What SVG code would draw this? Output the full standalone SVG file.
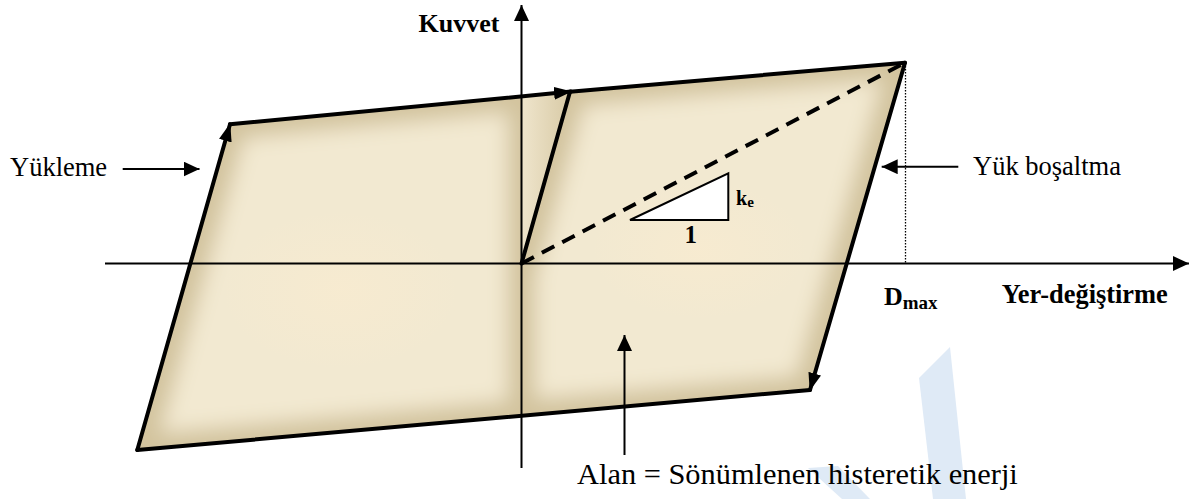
<svg xmlns="http://www.w3.org/2000/svg" width="1192" height="499" viewBox="0 0 1192 499">
  <style>
    .b { font-weight: bold; }
    .edge { stroke: #000; stroke-width: 4; fill: none; stroke-linecap: round; }
    .thin { stroke: #000; stroke-width: 2; fill: none; }
  </style>
  <defs>
    <filter id="bev" x="-5%" y="-5%" width="110%" height="110%">
      <feMorphology in="SourceAlpha" operator="erode" radius="14" result="e"/>
      <feGaussianBlur in="e" stdDeviation="10" result="b"/>
      <feFlood flood-color="#F2E9D1" result="c"/>
      <feComposite in="c" in2="b" operator="in" result="l"/>
      <feMerge result="m"><feMergeNode in="SourceGraphic"/><feMergeNode in="l"/></feMerge>
      <feComposite in="m" in2="SourceAlpha" operator="in"/>
    </filter>
    <linearGradient id="sliver" x1="0" y1="0" x2="1" y2="0">
      <stop offset="0" stop-color="#EFE5CC"/>
      <stop offset="1" stop-color="#D8CAA6"/>
    </linearGradient>
    <radialGradient id="warm" cx="0.5" cy="0.5" r="0.5">
      <stop offset="0" stop-color="#F8EBD0" stop-opacity="0.8"/>
      <stop offset="1" stop-color="#F8EBD0" stop-opacity="0"/>
    </radialGradient>
    <marker id="ahB" markerUnits="userSpaceOnUse" markerWidth="20" markerHeight="14" refX="17" refY="6.5" orient="auto">
      <path d="M0,0 L18,6.5 L0,13 z" fill="#000"/>
    </marker>
    <marker id="ahS" markerUnits="userSpaceOnUse" markerWidth="18" markerHeight="16" refX="16" refY="7.5" orient="auto">
      <path d="M0,0 L16,7.5 L0,15 z" fill="#000"/>
    </marker>
  </defs>

  <g id="watermark" fill="#DFEAF6">
    <polygon points="950,347 919,378 933,499 966,499"/>
    <polygon points="808,468 838,466 870,499 842,499"/>
  </g>

  <g id="region-left">
    <polygon points="137.3,450 230,124.3 521.5,96.3 521.5,415.1" fill="#D3C49F" filter="url(#bev)"/>
    <ellipse cx="340" cy="290" rx="120" ry="80" fill="url(#warm)"/>
  </g>
  <g id="region-sliver">
    <polygon points="521.5,96.3 570,91.7 521.5,263.5" fill="url(#sliver)"/>
  </g>
  <g id="region-right">
    <polygon points="570,91.7 905,62.7 810,390 521.5,415.1 521.5,263.5" fill="#D3C49F" filter="url(#bev)"/>
    <ellipse cx="700" cy="250" rx="110" ry="70" fill="url(#warm)"/>
  </g>

  <g id="axes">
    <line class="thin" x1="105" y1="263.5" x2="1189" y2="263.5" marker-end="url(#ahS)"/>
    <line class="thin" x1="521.5" y1="468" x2="521.5" y2="5" marker-end="url(#ahS)"/>
    <line x1="905.5" y1="63" x2="905.5" y2="263" stroke="#000" stroke-width="1.3" stroke-dasharray="1.5,1.5"/>
  </g>

  <g id="connectors">
    <line class="edge" x1="137.3" y1="450" x2="230" y2="124.3" marker-end="url(#ahB)"/>
    <line class="edge" x1="230" y1="124.3" x2="571" y2="91.6" marker-end="url(#ahB)"/>
    <line class="edge" x1="570" y1="91.7" x2="905" y2="62.7"/>
    <line class="edge" x1="905" y1="62.7" x2="810" y2="390" marker-end="url(#ahB)"/>
    <line class="edge" x1="810" y1="390" x2="137.3" y2="450"/>
    <line class="edge" x1="521.5" y1="263.5" x2="570" y2="91.7"/>
    <line x1="521.5" y1="263.5" x2="905" y2="62.7" stroke="#000" stroke-width="4" stroke-dasharray="14,9"/>
    <line class="thin" x1="122.7" y1="169" x2="199.5" y2="169" marker-end="url(#ahS)"/>
    <line class="thin" x1="958.3" y1="166.7" x2="881.7" y2="166.7" marker-end="url(#ahS)"/>
    <line class="thin" x1="624.5" y1="455" x2="624.5" y2="335" marker-end="url(#ahS)"/>
  </g>

  <g id="stiffness-triangle" font-family="Liberation Serif, serif" fill="#000">
    <polygon points="630,220 728.3,173.3 728.3,220" fill="#fff" stroke="#000" stroke-width="2"/>
    <text class="b" x="736" y="205" font-size="20">k<tspan font-size="15" dy="1.5">e</tspan></text>
    <text class="b" x="684.5" y="243" font-size="25">1</text>
  </g>

  <g id="labels" font-family="Liberation Serif, serif" fill="#000">
    <text class="b" x="418.6" y="32" font-size="26">Kuvvet</text>
    <text class="b" x="1001.7" y="303" font-size="26.4">Yer-değiştirme</text>
    <text class="b" x="884" y="305" font-size="26">D<tspan font-size="19" dy="4">max</tspan></text>
    <text x="10" y="175.7" font-size="26.5">Yükleme</text>
    <text x="973" y="175" font-size="26.5">Yük boşaltma</text>
    <text x="577" y="484" font-size="30.4">Alan = Sönümlenen histeretik enerji</text>
  </g>
</svg>
